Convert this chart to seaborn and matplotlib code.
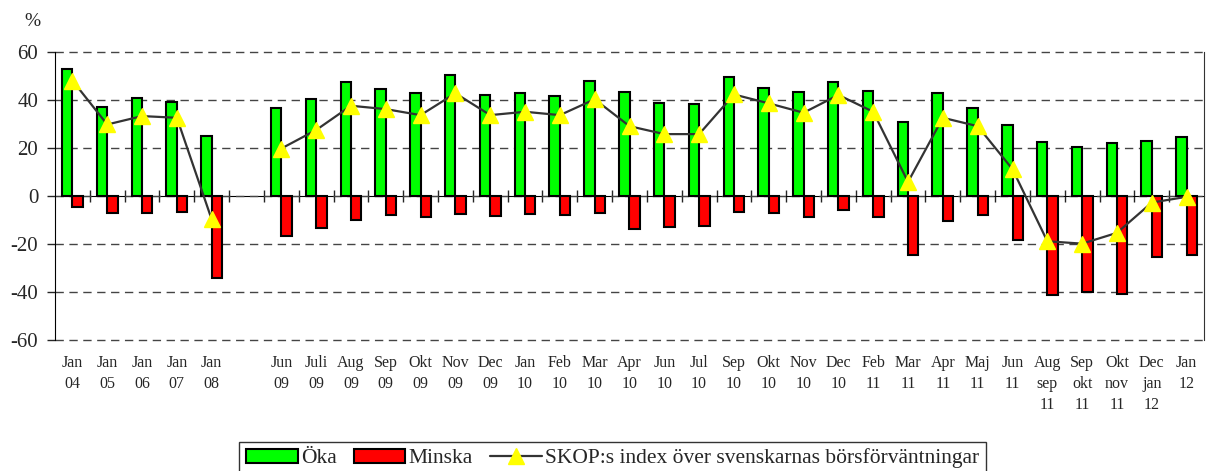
import numpy as np
import pandas as pd
import matplotlib
matplotlib.use("Agg")
import matplotlib.pyplot as plt
import seaborn as sns
from matplotlib.patches import Patch
from matplotlib.lines import Line2D

# category labels ("" = empty slot between Jan 08 and Jun 09)
labels = ["Jan\n04", "Jan\n05", "Jan\n06", "Jan\n07", "Jan\n08", "",
          "Jun\n09", "Juli\n09", "Aug\n09", "Sep\n09", "Okt\n09", "Nov\n09", "Dec\n09",
          "Jan\n10", "Feb\n10", "Mar\n10", "Apr\n10", "Jun\n10", "Jul\n10", "Sep\n10",
          "Okt\n10", "Nov\n10", "Dec\n10", "Feb\n11", "Mar\n11", "Apr\n11", "Maj\n11",
          "Jun\n11", "Aug\nsep\n11", "Sep\nokt\n11", "Okt\nnov\n11", "Dec\njan\n12", "Jan\n12"]

oka = [53, 37, 40.7, 39.2, 24.9, np.nan,
       36.7, 40.4, 47.4, 44.5, 42.7, 50.4, 42.1,
       42.9, 41.5, 47.8, 43.1, 38.8, 38.3, 49.3, 45, 43.1, 47.4,
       43.6, 30.6, 42.8, 36.7, 29.5,
       22.4, 20.3, 22, 22.8, 24.6]

minska = [-4.8, -7.3, -7.3, -6.7, -34.3, np.nan,
          -16.8, -13.3, -10.1, -7.8, -8.7, -7.5, -8.5,
          -7.6, -7.9, -7.1, -13.9, -12.9, -12.5, -6.9, -7.1, -8.7, -6.0,
          -8.7, -24.7, -10.3, -8.0, -18.5,
          -41.4, -40.1, -40.8, -25.3, -24.6]

skop = [48, 29.7, 33.2, 32.5, -9.8, np.nan,
        19.7, 27.4, 37.5, 36.1, 33.6, 42.7, 33.6,
        35, 33.6, 40.2, 29, 25.7, 25.7, 42.2, 38.5, 34.6, 42,
        35, 5.8, 32.5, 29, 11.1,
        -18.9, -19.9, -15.4, -2.8, -0.4]

series = ["Öka", "Minska"]
colors = {"Öka": "#00FF00", "Minska": "#FF0000"}
line_label = "SKOP:s index över svenskarnas börsförväntningar"

sns.set_style("white")
plt.rcParams["font.family"] = ["Liberation Serif", "DejaVu Serif"]
plt.rcParams["axes.unicode_minus"] = False

df = pd.DataFrame({"label": labels, "Öka": oka, "Minska": minska})
long = df.melt(id_vars="label", value_vars=series, var_name="serie", value_name="value").dropna()

fig = plt.figure(figsize=(12.06, 4.71), dpi=100)
ax = fig.add_axes([55 / 1206, 1 - 340 / 471, (1204 - 55) / 1206, (340 - 51.7) / 471])

sns.barplot(data=long, x="label", y="value", hue="serie", order=labels, hue_order=series,
            palette=colors, width=0.6, edgecolor="black", linewidth=1.5, saturation=1,
            legend=False, ax=ax)

xpos = np.arange(len(labels))
ax.plot(xpos, skop, color="#333333", lw=1.6, marker="^", markersize=12,
        markerfacecolor="#FFFF00", markeredgecolor="#FFFF00", zorder=5)

ax.set_xlim(-0.5, len(labels) - 0.5)
ax.set_ylim(-60, 60)
ax.set_yticks(np.arange(-60, 61, 20))
ax.set_xticks(xpos)
ax.set_xticklabels(labels, fontsize=11.5, linespacing=1.4)
ax.tick_params(axis="x", length=0, pad=11)
ax.tick_params(axis="y", direction="out", length=6, width=1, pad=6, labelsize=15, left=True)
ax.set_xlabel("")
ax.set_ylabel("")

ax.yaxis.grid(True, linestyle=(0, (6, 4)), color="#444444", lw=1)
for g in ax.get_ygridlines():
    g.set_clip_on(False)
ax.set_axisbelow(True)
ax.spines["top"].set_visible(False)
ax.spines["bottom"].set_visible(False)
ax.spines["left"].set_color("black")
ax.spines["right"].set_color("#333333")

# zero line with category separators
zero = ax.secondary_xaxis(0.5)
zero.set_xticks(np.arange(0.5, len(labels) - 1, 1))
zero.tick_params(direction="inout", length=8, width=1, labelbottom=False, labeltop=False)
zero.spines["bottom"].set_color("black")
zero.spines["top"].set_color("black")

fig.text(32 / 1206, 1 - 22 / 471, "%", fontsize=14, ha="center", va="center")

handles = [Patch(facecolor=colors["Öka"], edgecolor="black", lw=1.5),
           Patch(facecolor=colors["Minska"], edgecolor="black", lw=1.5),
           Line2D([], [], color="#333333", lw=1.6, marker="^", markersize=12,
                  markerfacecolor="#FFFF00", markeredgecolor="#FFFF00")]
leg = fig.legend(handles, series + [line_label], loc="upper center", ncol=3,
                 bbox_to_anchor=((235 + 990) / 2 / 1206, 1 - 442 / 471),
                 fontsize=15.5, frameon=True, fancybox=False, framealpha=1,
                 edgecolor="#333333", handlelength=2.4, handleheight=0.6,
                 handletextpad=0.15, columnspacing=0.8, borderpad=0.3, borderaxespad=0)
leg.get_frame().set_linewidth(1)

fig.savefig("out.png", dpi=100)
